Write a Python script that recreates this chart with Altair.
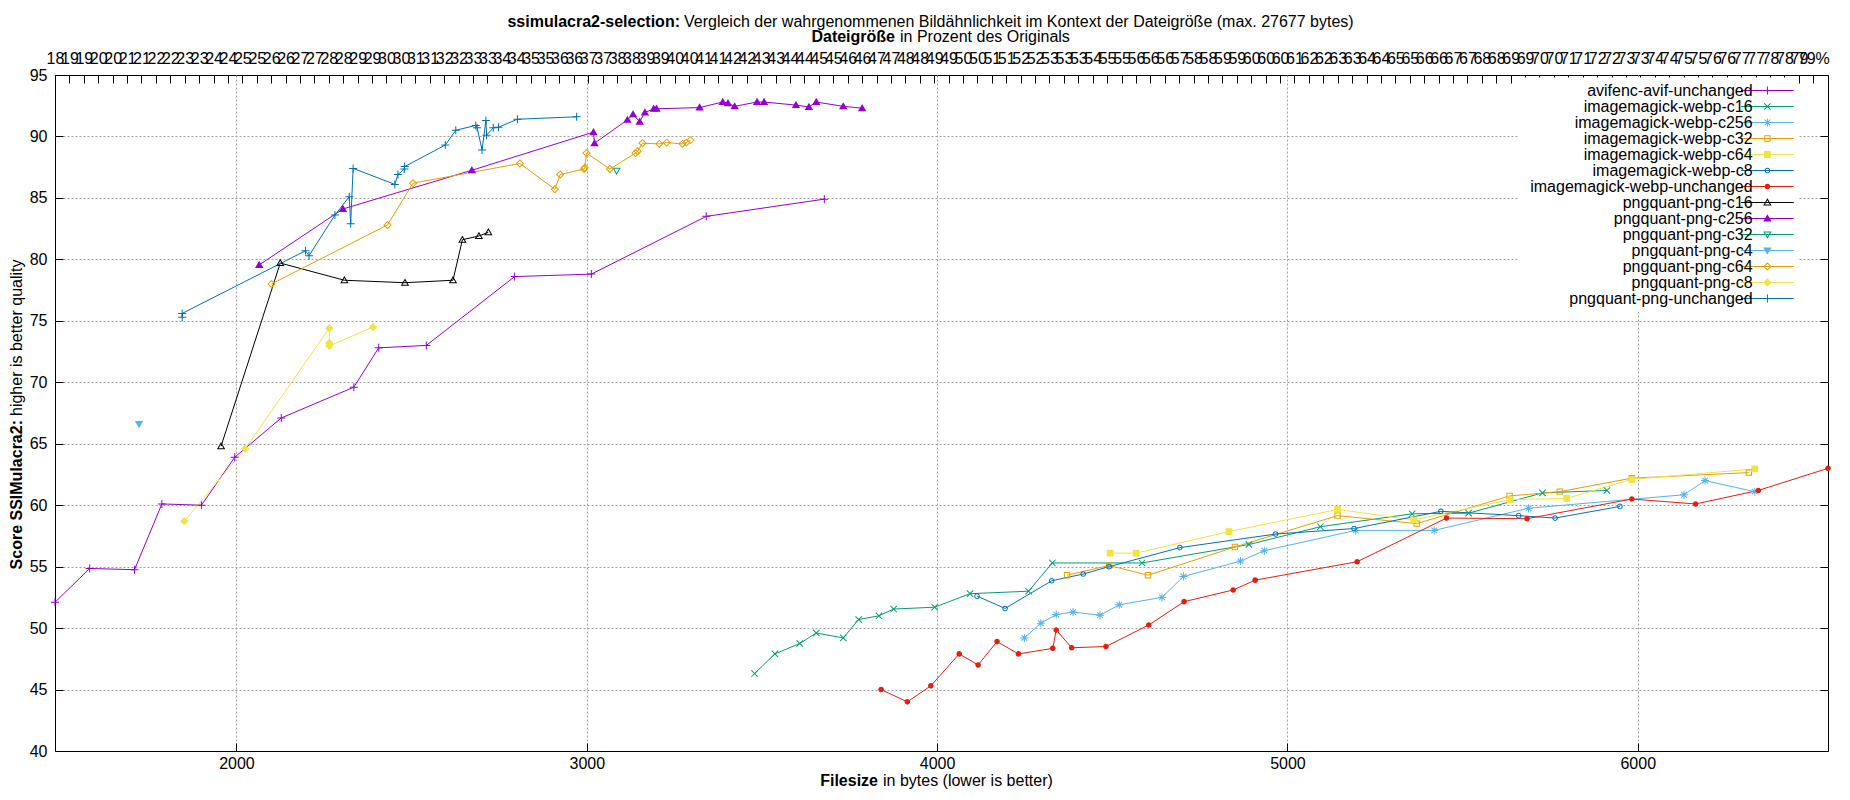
import altair as alt
import pandas as pd

# (file size in bytes, SSIMulacra2 score)
avifenc_avif_unchanged = [(1482, 52.1), (1581, 54.85), (1709, 54.75), (1787, 60.1), (1900, 60.0), (1995, 63.9),
                          (2128, 67.1), (2335, 69.6), (2406, 72.8), (2542, 73.0), (2794, 78.6), (3013, 78.8),
                          (3341, 83.5), (3678, 84.9)]
imagemagick_webp_c16 = [(3479, 46.3), (3537, 47.9), (3608, 48.75), (3655, 49.6), (3732, 49.2), (3776, 50.7),
                        (3834, 51.0), (3876, 51.55), (3993, 51.7), (4094, 52.8), (4261, 53.0), (4329, 55.3),
                        (4585, 55.3), (4890, 56.8), (5094, 58.25), (5356, 59.3), (5517, 59.35), (5728, 61.0),
                        (5912, 61.2)]
imagemagick_webp_c256 = [(4249, 49.2), (4296, 50.4), (4340, 51.1), (4388, 51.3), (4465, 51.05), (4520, 51.9),
                         (4642, 52.5), (4703, 54.2), (4866, 55.45), (4934, 56.3), (5195, 57.95), (5419, 57.95),
                         (5688, 59.75), (6132, 60.85), (6192, 62.0), (6334, 61.1)]
imagemagick_webp_c32 = [(4371, 54.3), (4491, 55.1), (4602, 54.3), (4850, 56.6), (5143, 59.15), (5369, 58.5),
                        (5634, 60.75), (5777, 61.1), (5983, 62.2), (6317, 62.65)]
imagemagick_webp_c64 = [(4494, 56.1), (4568, 56.1), (4833, 57.85), (5143, 59.65), (5360, 58.8), (5636, 60.45),
                        (5797, 60.55), (5983, 62.1), (6334, 62.95)]
imagemagick_webp_c8 = [(4114, 52.6), (4194, 51.6), (4327, 53.85), (4417, 54.4), (4491, 55.0), (4693, 56.55),
                       (4966, 57.65), (5190, 58.1), (5438, 59.5), (5660, 59.15), (5764, 58.95), (5949, 59.9)]
imagemagick_webp_unchanged = [(3840, 45.0), (3915, 44.0), (3982, 45.3), (4063, 47.9), (4117, 47.0), (4171, 48.9),
                              (4232, 47.9), (4330, 48.35), (4340, 49.85), (4384, 48.4), (4482, 48.5), (4604, 50.25),
                              (4705, 52.15), (4845, 53.1), (4908, 53.9), (5199, 55.4), (5454, 58.95), (5684, 58.9),
                              (5983, 60.5), (6165, 60.1), (6344, 61.2), (6543, 63.0)]
pngquant_png_c16 = [(1956, 64.8), (2125, 79.7), (2308, 78.3), (2481, 78.1), (2618, 78.3), (2645, 81.6),
                    (2692, 81.9), (2719, 82.2)]
pngquant_png_c256 = [(2065, 79.55), (2304, 84.1), (2672, 87.25), (3019, 90.35), (3022, 89.45), (3116, 91.35),
                     (3132, 91.8), (3151, 91.2), (3166, 91.95), (3191, 92.25), (3199, 92.25), (3322, 92.35),
                     (3388, 92.8), (3403, 92.7), (3422, 92.45), (3486, 92.8), (3506, 92.8), (3597, 92.55),
                     (3634, 92.4), (3655, 92.8), (3732, 92.45), (3786, 92.3)]
pngquant_png_c32 = [(3085, 87.2)]
pngquant_png_c4 = [(1722, 66.6)]
pngquant_png_c64 = [(2100, 78.0), (2431, 82.8), (2504, 86.2), (2809, 87.8), (2909, 85.7), (2924, 86.9),
                    (2992, 87.35), (2994, 87.45), (2999, 88.65), (3066, 87.35), (3139, 88.65), (3145, 88.8),
                    (3159, 89.45), (3207, 89.4), (3228, 89.5), (3273, 89.4), (3284, 89.5), (3296, 89.7)]
pngquant_png_c8 = [(1851, 58.7), (2025, 64.6), (2265, 74.4), (2265, 73.2), (2265, 72.95), (2390, 74.5)]
pngquant_png_unchanged = [(1845, 75.3), (1845, 75.6), (2197, 80.7), (2207, 80.3), (2281, 83.6), (2322, 85.1),
                          (2326, 82.9), (2333, 87.4), (2452, 86.1), (2461, 86.9), (2479, 87.35), (2480, 87.55),
                          (2596, 89.3), (2626, 90.5), (2683, 90.9), (2687, 90.7), (2701, 88.9), (2712, 91.3),
                          (2714, 90.1), (2733, 90.7), (2748, 90.75), (2802, 91.4), (2971, 91.6)]

series = ["avifenc-avif-unchanged", "imagemagick-webp-c16", "imagemagick-webp-c256", "imagemagick-webp-c32",
          "imagemagick-webp-c64", "imagemagick-webp-c8", "imagemagick-webp-unchanged", "pngquant-png-c16",
          "pngquant-png-c256", "pngquant-png-c32", "pngquant-png-c4", "pngquant-png-c64", "pngquant-png-c8",
          "pngquant-png-unchanged"]
series_points = [avifenc_avif_unchanged, imagemagick_webp_c16, imagemagick_webp_c256, imagemagick_webp_c32,
                 imagemagick_webp_c64, imagemagick_webp_c8, imagemagick_webp_unchanged, pngquant_png_c16,
                 pngquant_png_c256, pngquant_png_c32, pngquant_png_c4, pngquant_png_c64, pngquant_png_c8,
                 pngquant_png_unchanged]

# gnuplot default line colours and point types
colors = ["#9400d3", "#009e73", "#56b4e9", "#e69f00", "#f0e442", "#0072b2", "#e51e10", "#000000",
          "#9400d3", "#009e73", "#56b4e9", "#e69f00", "#f0e442", "#0072b2"]
marker_kinds = ["plus", "cross", "star", "square_open", "square", "circle_open", "circle", "triup_open",
                "triup", "tridown_open", "tridown", "diamond_open", "diamond", "plus"]

x_ticks = [2000, 3000, 4000, 5000, 6000]
y_ticks = [40, 45, 50, 55, 60, 65, 70, 75, 80, 85, 90, 95]
top_ticks = [round(1482 + 41.14 * k, 2) for k in range(123)]

T = 0.25  # one pixel when a symbol unit is 4 px (size 64)


def _poly(pts, clockwise=True):
    n = len(pts)
    area = sum(pts[i][0] * pts[(i + 1) % n][1] - pts[(i + 1) % n][0] * pts[i][1] for i in range(n))
    if (area > 0) != clockwise:
        pts = pts[::-1]
    return "M" + "L".join(f"{x:.3f},{y:.3f}" for x, y in pts) + "Z"


def _bar(x0, y0, x1, y1):
    dx, dy = x1 - x0, y1 - y0
    n = (dx * dx + dy * dy) ** 0.5
    nx, ny = -dy / n * T / 2, dx / n * T / 2
    return _poly([(x0 + nx, y0 + ny), (x1 + nx, y1 + ny), (x1 - nx, y1 - ny), (x0 - nx, y0 - ny)])


def _incircle(pts):
    (ax, ay), (bx, by), (cx, cy) = pts
    a = ((bx - cx) ** 2 + (by - cy) ** 2) ** 0.5
    b = ((cx - ax) ** 2 + (cy - ay) ** 2) ** 0.5
    c = ((ax - bx) ** 2 + (ay - by) ** 2) ** 0.5
    p = a + b + c
    area = abs((bx - ax) * (cy - ay) - (cx - ax) * (by - ay)) / 2
    return (a * ax + b * bx + c * cx) / p, (a * ay + b * by + c * cy) / p, 2 * area / p


def _ring(pts, cx, cy, inr, filled):
    out = _poly(pts)
    if filled:
        return out
    k = (inr - T) / inr
    inner = [(cx + k * (x - cx), cy + k * (y - cy)) for x, y in pts]
    return out + _poly(inner, clockwise=False)


def _circle(r, filled):
    out = f"M{-r},0A{r},{r},0,1,1,{r},0A{r},{r},0,1,1,{-r},0Z"
    if filled:
        return out
    q = r - T
    return out + f"M{-q},0A{q},{q},0,1,0,{q},0A{q},{q},0,1,0,{-q},0Z"


def marker_path(kind):
    filled = not kind.endswith("_open")
    base = kind.replace("_open", "")
    if base == "plus":
        return _bar(-1, 0, 1, 0) + _bar(0, -1, 0, 1)
    if base == "cross":
        return _bar(-0.8, -0.8, 0.8, 0.8) + _bar(-0.8, 0.8, 0.8, -0.8)
    if base == "star":
        return (_bar(-1, 0, 1, 0) + _bar(0, -1, 0, 1)
                + _bar(-0.7, -0.7, 0.7, 0.7) + _bar(-0.7, 0.7, 0.7, -0.7))
    if base == "square":
        s = 0.8 if not filled else 0.85
        return _ring([(-s, -s), (s, -s), (s, s), (-s, s)], 0, 0, s, filled)
    if base == "circle":
        return _circle(0.7, filled)
    if base in ("triup", "tridown"):
        sign = 1 if base == "triup" else -1
        pts = [(0, -1.05 * sign), (1.05, 0.75 * sign), (-1.05, 0.75 * sign)]
        cx, cy, inr = _incircle(pts)
        return _ring(pts, cx, cy, inr, filled)
    d = 1.05
    return _ring([(0, -d), (d, 0), (0, d), (-d, 0)], 0, 0, d / 2 ** 0.5, filled)


marker_paths = [marker_path(k) for k in marker_kinds]
# legend keys: line sample with the point in the middle
legend_paths = [_bar(-6.6, 0, 6.6, 0) + marker_path(k) for k in marker_kinds]

rows = []
for name, pts in zip(series, series_points):
    for i, (b, s) in enumerate(pts):
        rows.append({"series": name, "bytes": b, "score": s, "i": i})
df = pd.DataFrame(rows)

FONT = "Liberation Sans"
GRID = dict(grid=True, gridColor="#a0a0a0", gridDash=[2, 2])
x_scale = alt.Scale(domain=[1482, 6543], nice=False, zero=False)
y_scale = alt.Scale(domain=[40, 95], nice=False, zero=False)
color_scale = alt.Scale(domain=series, range=colors)

# grid (and y labels) from the line layer
x_grid_axis = alt.Axis(values=x_ticks, title=None, labels=False, ticks=False, domain=False, **GRID)
y_grid_axis = alt.Axis(values=y_ticks, title=None, ticks=False, domain=False, labelPadding=8,
                       labelFlush=False,
                       gridOpacity={"condition": {"test": "datum.value == 40 || datum.value == 95", "value": 0},
                                    "value": 1},
                       **GRID)
# gnuplot style inward tics: axis pulled 8px into the plot, ticks pointing out to the border
INWARD = dict(title=None, grid=False, domain=False, tickSize=8, tickColor="black", tickWidth=1, offset=-8)
x_bottom_axis = alt.Axis(values=x_ticks, format="d", labelPadding=4, labelFlush=False, **INWARD)
y_left_ticks = alt.Axis(values=y_ticks, labels=False, **INWARD)
y_right_ticks = alt.Axis(orient="right", values=y_ticks, labels=False, **INWARD)
top_axis = alt.Axis(orient="top", values=top_ticks, labelPadding=9, labelOverlap=False, labelFlush=False,
                    labelExpr="format(18 + (datum.value - 1482) / 82.28, '.0f') + (datum.value > 6490 ? '%' : '')",
                    **INWARD)

lines = alt.Chart(df).mark_line(strokeWidth=1).encode(
    x=alt.X("bytes:Q", scale=x_scale, axis=x_grid_axis),
    y=alt.Y("score:Q", scale=y_scale, axis=y_grid_axis),
    color=alt.Color("series:N", scale=color_scale, legend=None),
    order=alt.Order("i:Q"),
)

points = alt.Chart(df).mark_point(filled=True, size=64, opacity=1, strokeWidth=0).encode(
    x=alt.X("bytes:Q", scale=x_scale, axis=top_axis),
    y=alt.Y("score:Q", scale=y_scale, axis=y_right_ticks),
    color=alt.Color("series:N", scale=color_scale, legend=None),
    shape=alt.Shape("series:N", scale=alt.Scale(domain=series, range=marker_paths), legend=None),
)

# key on the right: label, then line sample with point (labels pulled left of the symbol)
key_legend = alt.Legend(title=None, orient="none", legendX=1463, legendY=2.5, direction="vertical",
                        padding=5, fillColor="white", symbolSize=64, symbolOffset=236.4,
                        symbolStrokeWidth=0, labelAlign="right", labelOffset={"expr": "-22.8"},
                        labelFont=FONT, labelFontSize=16, labelColor="black", labelLimit=400,
                        rowPadding={"expr": "-8"})

key = alt.Chart(df).transform_filter("false").mark_point(filled=True, size=64, opacity=1, strokeWidth=0).encode(
    x=alt.X("bytes:Q", scale=x_scale, axis=x_bottom_axis),
    y=alt.Y("score:Q", scale=y_scale, axis=y_left_ticks),
    color=alt.Color("series:N", scale=color_scale, legend=key_legend),
    shape=alt.Shape("series:N", scale=alt.Scale(domain=series, range=legend_paths), legend=key_legend),
)

one = pd.DataFrame({"k": [0]})


def label(text, x, y, bold=False, align="left", angle=0):
    return alt.Chart(one).mark_text(
        text=text, align=align, baseline="middle", angle=angle, font=FONT, fontSize=16,
        fontWeight="bold" if bold else "normal", color="black",
    ).encode(x=alt.value(x), y=alt.value(y))


texts = [
    label("ssimulacra2-selection:", 625, -53, bold=True, align="right"),
    label("Vergleich der wahrgenommenen Bildähnlichkeit im Kontext der Dateigröße (max. 27677 bytes)", 629, -53),
    label("Dateigröße", 840, -38, bold=True, align="right"),
    label("in Prozent des Originals", 845, -38),
    label("Filesize", 823, 706, bold=True, align="right"),
    label("in bytes (lower is better)", 828, 706),
    label("Score SSIMulacra2:", -38.5, 345, bold=True, align="right", angle=270),
    label("higher is better quality", -38.5, 341, angle=270),
]

chart = alt.layer(lines, points, key, *texts).resolve_scale(
    color="independent", shape="independent"
).resolve_axis(
    x="independent", y="independent"
).properties(
    width=1773, height=676,
    autosize=alt.AutoSizeParams(type="none"),
    padding={"left": 47, "top": 67, "right": 14, "bottom": 41},
).configure_view(
    stroke="black", strokeWidth=1
).configure_axis(
    labelFont=FONT, labelFontSize=16, labelColor="black"
)

chart.save("out.html", embed_options={"renderer": "svg", "actions": False})
